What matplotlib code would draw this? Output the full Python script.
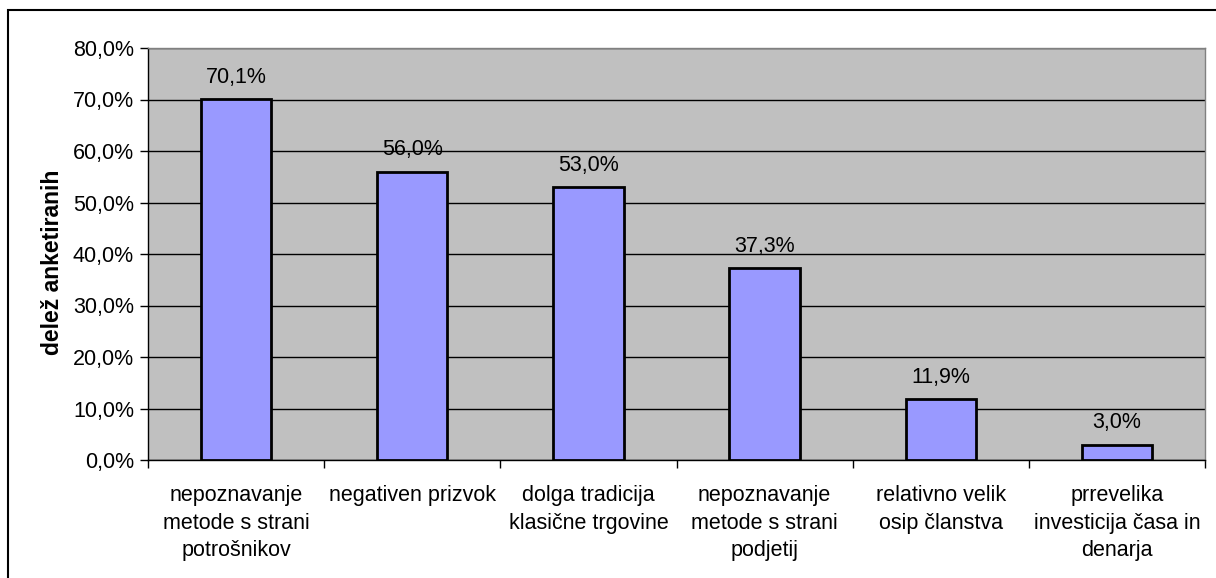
import matplotlib
matplotlib.use("Agg")
import matplotlib.pyplot as plt
from matplotlib.patches import Rectangle
from matplotlib.ticker import FixedLocator, FuncFormatter

categories = [
    "nepoznavanje\nmetode s strani\npotrošnikov",
    "negativen prizvok",
    "dolga tradicija\nklasične trgovine",
    "nepoznavanje\nmetode s strani\npodjetij",
    "relativno velik\nosip članstva",
    "prrevelika\ninvesticija časa in\ndenarja",
]
values = [70.1, 56.0, 53.0, 37.3, 11.9, 3.0]
y_ticks = [0, 10, 20, 30, 40, 50, 60, 70, 80]
y_label = "delež anketiranih"

plt.rcParams["font.family"] = ["Liberation Sans", "DejaVu Sans"]
FS = 15.5

fig = plt.figure(figsize=(12.16, 5.78), dpi=100)
fig.patch.set_facecolor("white")

# outer chart frame
fig.patches.append(Rectangle((8 / 1216, -0.05), 1.2, (578 - 10) / 578 + 0.05,
                             transform=fig.transFigure, fill=False,
                             edgecolor="black", linewidth=1.5))

ax = fig.add_axes([148 / 1216, (578 - 460) / 578, (1205 - 148) / 1216, (460 - 48) / 578])
ax.set_facecolor("#C0C0C0")

x = list(range(len(values)))
ax.bar(x, values, width=0.4, color="#9999FF", edgecolor="black", linewidth=2, zorder=3)

for xi, v in zip(x, values):
    ax.annotate(f"{v:.1f}%".replace(".", ","), (xi, v), xytext=(0, 8),
                textcoords="offset points", ha="center", va="bottom",
                fontsize=FS, color="black", zorder=4)

ax.set_xlim(-0.5, len(values) - 0.5)
ax.set_ylim(0, 80)
ax.yaxis.set_major_locator(FixedLocator(y_ticks))
ax.yaxis.set_major_formatter(FuncFormatter(lambda v, p: f"{v:.1f}%".replace(".", ",")))
ax.grid(axis="y", color="black", linewidth=1, zorder=1)
ax.set_axisbelow(True)

# category boundary ticks
ax.set_xticks([i - 0.5 for i in range(len(values) + 1)])
ax.set_xticklabels([])
ax.set_xticks(x, minor=True)
ax.set_xticklabels(categories, minor=True, fontsize=FS, linespacing=1.42)
ax.tick_params(axis="x", which="minor", length=0, pad=18)
ax.tick_params(axis="x", which="major", length=6, width=1, color="black")
ax.tick_params(axis="y", length=6, width=1, labelsize=FS, pad=4)

for s in ["top", "right"]:
    ax.spines[s].set_color("#808080")
    ax.spines[s].set_linewidth(1)
ax.spines["left"].set_color("black")
ax.spines["bottom"].set_color("black")
ax.spines["left"].set_linewidth(1)
ax.spines["bottom"].set_linewidth(1)

ax.set_ylabel(y_label, fontsize=16.5, fontweight="bold")
ax.yaxis.set_label_coords(-84 / 1057, 0.48)

fig.savefig("out.png", dpi=100)
